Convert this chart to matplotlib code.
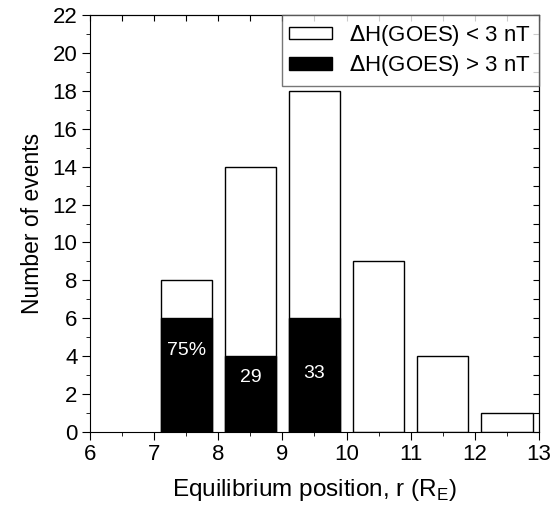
import matplotlib
matplotlib.use('Agg')
import matplotlib.pyplot as plt
from matplotlib.ticker import MultipleLocator

plt.rcParams['font.family'] = ['Liberation Sans', 'DejaVu Sans']

# histogram of equilibrium positions
centers = [7.5, 8.5, 9.5, 10.5, 11.5, 12.5]
total = [8, 14, 18, 9, 4, 1]
strong = [6, 4, 6, 0, 0, 0]
labels = ['75%', '29', '33']
label_y = [4.3, 2.9, 3.1]

fig = plt.figure(figsize=(5.5, 5.11), dpi=100)
ax = fig.add_axes([0.1636, 0.1546, 0.8164, 0.816])

ax.bar(centers, total, width=0.8, color='white', edgecolor='black', linewidth=1,
       label=r'$\Delta$H(GOES) < 3 nT')
ax.bar(centers[:3], strong[:3], width=0.8, color='black', edgecolor='black', linewidth=1,
       label=r'$\Delta$H(GOES) > 3 nT')

for xc, t, yy in zip(centers, labels, label_y):
    ax.text(xc, yy, t, color='white', fontsize=14, ha='center', va='center')

ax.set_xlim(6, 13)
ax.set_ylim(0, 22)
ax.xaxis.set_major_locator(MultipleLocator(1))
ax.xaxis.set_minor_locator(MultipleLocator(0.5))
ax.yaxis.set_major_locator(MultipleLocator(2))
ax.yaxis.set_minor_locator(MultipleLocator(1))
ax.tick_params(which='both', direction='out', labelsize=16, top=False, right=False)
ax.tick_params(which='major', length=6, pad=3)
ax.tick_params(which='minor', length=3)

# mirrored inward ticks on top/right
axt = ax.secondary_xaxis('top')
axt.xaxis.set_major_locator(MultipleLocator(0.5))
axt.tick_params(direction='in', length=4, labeltop=False)
axr = ax.secondary_yaxis('right')
axr.yaxis.set_major_locator(MultipleLocator(1))
axr.tick_params(direction='in', length=4, labelright=False)

ax.set_xlabel(r'Equilibrium position, r (R$_\mathregular{E}$)', fontsize=17.5, labelpad=8)
ax.set_ylabel('Number of events', fontsize=16.5, labelpad=6)

leg = ax.legend(loc='upper right', fontsize=16, frameon=True, fancybox=False,
                borderaxespad=0, handlelength=1.9, handleheight=0.5,
                handletextpad=0.8, borderpad=0.35, labelspacing=0.25)
leg.get_frame().set_edgecolor('#555555')
leg.get_frame().set_linewidth(1)

fig.savefig('out.png', dpi=100)
